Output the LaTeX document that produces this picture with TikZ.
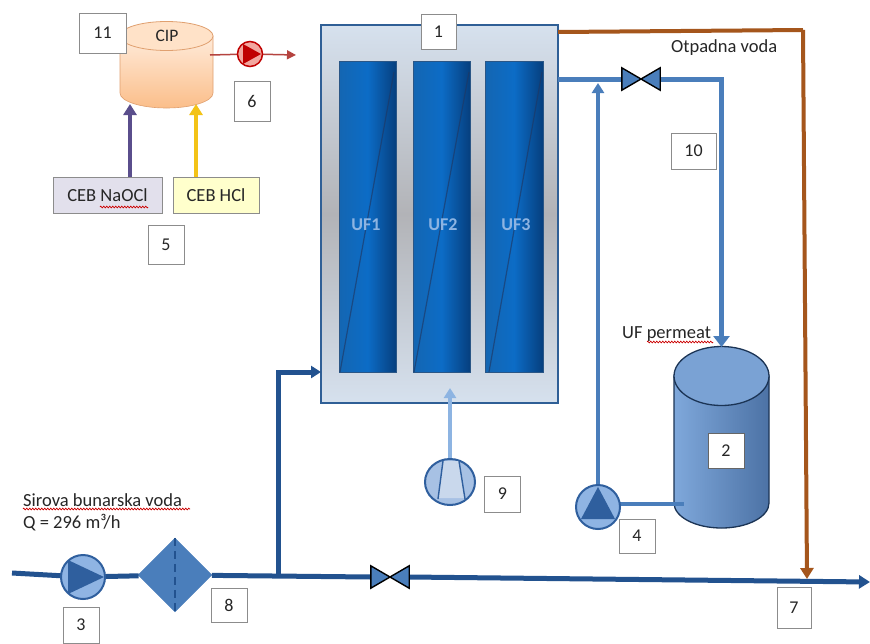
\documentclass[tikz,border=0pt]{standalone}
\usepackage{fontspec}
\setmainfont{Carlito}
\usetikzlibrary{arrows.meta,shapes.geometric,decorations.pathmorphing}
\definecolor{steelp}{HTML}{4A7EBB}
\definecolor{mainp}{HTML}{22528F}
\definecolor{lightp}{HTML}{8DB4E2}
\definecolor{brownp}{HTML}{A5561C}
\definecolor{pumpfill}{HTML}{8FB4E3}
\definecolor{pumptri}{HTML}{2F5F9E}
\definecolor{numedge}{HTML}{8C8C8C}
\definecolor{textc}{HTML}{262626}
\definecolor{panelout}{HTML}{D6E1EE}
\definecolor{panelin}{HTML}{B2B3B7}
\definecolor{panelline}{HTML}{2F5F96}
\definecolor{ufleft}{HTML}{1466B2}
\definecolor{ufmid}{HTML}{0C6CC6}
\definecolor{ufright}{HTML}{063F7E}
\definecolor{ufedge}{HTML}{2A5686}
\definecolor{ufslash}{HTML}{1F3864}
\definecolor{ciptop}{HTML}{FFEBDA}
\definecolor{cipbot}{HTML}{FBBE8A}
\definecolor{ciplid}{HTML}{FFE2C8}
\definecolor{cipline}{HTML}{E0A070}
\definecolor{tankl}{HTML}{7FA8DB}
\definecolor{tankr}{HTML}{4C72A5}
\definecolor{tanktop}{HTML}{7AA2D4}
\definecolor{tankline}{HTML}{1B3455}
\definecolor{purplep}{HTML}{5A4E8C}
\definecolor{yellowp}{HTML}{F3C317}
\definecolor{naoclfill}{HTML}{E2E0EC}
\definecolor{hclfill}{HTML}{FFFFCC}
\definecolor{redline}{HTML}{B5433F}
\definecolor{redpump}{HTML}{C00000}
\definecolor{redpale}{HTML}{F2A79F}
\definecolor{comp}{HTML}{A7C1E4}
\definecolor{compin}{HTML}{C9D8EC}
\tikzset{
  lbl/.style={font=\fontsize{18.5}{21}\selectfont,text=textc,inner sep=0pt},
  numbox/.style={draw=numedge,line width=1pt,fill=white,font=\fontsize{18}{20}\selectfont,text=textc,inner sep=0pt,minimum width=36pt,minimum height=36pt},
  ufmod/.style={draw=ufedge,line width=1pt,left color=ufleft,right color=ufright,middle color=ufmid,inner sep=0pt,minimum width=57pt,minimum height=311pt},
  uftext/.style={text=lightp,font=\fontsize{18}{20}\selectfont\bfseries,inner sep=0pt},
  slash/.style={draw=ufslash,line width=1.2pt,opacity=.65},
  pipe/.style={draw=steelp,line width=5pt},
  thinpipe/.style={draw=steelp,line width=3.5pt},
  mainpipe/.style={draw=mainp,line width=5pt},
  wastepipe/.style={draw=brownp,line width=4pt},
  tipa/.style={-{Triangle[length=11pt,width=13pt]}},
  tipb/.style={-{Triangle[length=10pt,width=12pt]}},
  pumpsize/.style={circle,inner sep=0pt,minimum size=44pt},
  pumpbody/.style={pumpsize,draw=pumptri,line width=2pt,fill=pumpfill},
  valve/.style={inner sep=0pt,minimum width=38pt,minimum height=22pt},
  valvefill/.style={draw=black,line width=1.4pt,fill=steelp,line join=miter},
  chem/.style={draw=black!45,line width=1pt,inner sep=0pt,minimum height=36pt,font=\fontsize{18.5}{21}\selectfont,text=textc},
  spell/.style={draw=red!80!black,line width=.7pt,decorate,decoration={zigzag,segment length=3pt,amplitude=.8pt}},
  anchorbox/.style={inner sep=0pt,outer sep=0pt}
}
\begin{document}
\begin{tikzpicture}[x=1pt,y=-1pt]
\useasboundingbox (0,0) rectangle (870,643);
\fill[white] (0,0) rectangle (870,643);

% anchors and panel
\node[anchorbox,minimum width=237pt,minimum height=378pt,draw=panelline,line width=2.2pt,top color=panelout,bottom color=panelout,middle color=panelin] (panel) at (439.5,214) {};
\node[valve] (v1) at (641,79) {};
\node[valve] (v2) at (390,577) {};
\node[anchorbox,minimum width=95pt,minimum height=181pt] (tank2) at (721.5,437.5) {};
\node[anchorbox,minimum width=93pt,minimum height=87pt] (cip) at (166.5,64.5) {};
\node[pumpsize] (p3) at (83,577) {};
\node[pumpsize] (p4) at (598,507) {};
\node[circle,inner sep=0pt,minimum size=48pt] (p9) at (450,482) {};
\node[circle,inner sep=0pt,minimum size=26pt] (p6) at (250,54) {};
\node[diamond,fill=steelp,draw=steelp,inner sep=0pt,minimum width=74pt,minimum height=74pt] (filter) at (175,575) {};
\node[chem,fill=naoclfill,minimum width=109pt] (naocl) at (107.5,195) {CEB NaOCl};
\node[chem,fill=hclfill,minimum width=86pt] (hcl) at (216,195) {CEB HCl};

\coordinate (inlet) at (12,573);
\coordinate (outlet) at (870,582);
\coordinate (junction) at (278,575);
\coordinate (wastecorner) at (803,30);
\coordinate (wastein) at (807,579);
\coordinate (cipout) at (210,55);
\coordinate (redend) at (296,55);
\coordinate (tankport) at (684,504);
\coordinate (riserhit) at (598,83);

% UF modules
\node[ufmod] (uf1) at (367.5,216.5) {};
\node[ufmod] (uf2) at (441.5,216.5) {};
\node[ufmod,minimum width=58pt] (uf3) at (514,217) {};
\draw[slash] (340,372) -- (394,72);
\draw[slash] (414,372) -- (469,72);
\draw[slash] (489,372) -- (542,72);
\node[uftext] at (366,225) {UF1};
\node[uftext] at (443,225) {UF2};
\node[uftext] at (516,225) {UF3};

% CIP tank
\draw[draw=cipline,line width=.6pt,top color=ciptop,bottom color=cipbot]
  (cip.west |- 0,36) -- (cip.west |- 0,93) arc[x radius=46.5,y radius=15,start angle=180,end angle=0] -- (cip.east |- 0,36) -- cycle;
\draw[draw=cipline,line width=.8pt,fill=ciplid] (cip.center |- 0,36) ellipse[x radius=46.5,y radius=14.5];
\node[lbl,font=\fontsize{17.5}{20}\selectfont] at (167,36) {CIP};

% Tank 2
\draw[draw=tankline,line width=1.3pt,left color=tankl,right color=tankr]
  (tank2.west |- 0,376) -- (tank2.west |- 0,503) arc[x radius=47.5,y radius=25,start angle=180,end angle=0] -- (tank2.east |- 0,376) -- cycle;
\draw[draw=tankline,line width=1.3pt,fill=tanktop] (tank2.center |- 0,376) ellipse[x radius=47.5,y radius=29.5];

% pipes
\draw[wastepipe] (panel.east |- 0,32) -- (wastecorner);
\draw[wastepipe,tipa] (wastecorner) -- (wastein);
\draw[pipe] (panel.east |- v1) -- (v1.west);
\draw[pipe,-{Triangle[length=11pt,width=16pt]}] (v1.east) -| (tank2.north);
\draw[thinpipe,tipb] (p4) -- (riserhit);
\draw[thinpipe] (p4.east |- tankport) -- (tankport);
\draw[draw=lightp,line width=3.4pt,tipb] (p9) -- (p9 |- 0,388);
\draw[mainpipe] (inlet) -- (p3);
\draw[mainpipe] (p3) -- (filter);
\draw[mainpipe] (filter) -- (v2.west);
\draw[mainpipe,tipa] (v2.east) -- (outlet);
\draw[mainpipe,tipb] (junction) |- (panel.west |- 0,372);
\draw[draw=purplep,line width=3.6pt,tipa] (130,177) -- (130,104);
\draw[draw=yellowp,line width=3.6pt,tipa] (196,177) -- (196,104);
\draw[draw=redline,line width=1.5pt] (cipout) -- (p6);
\draw[draw=redline,line width=1.5pt,-{Triangle[length=9pt,width=9pt]}] (p6) -- (redend);

% pump symbols
\node[pumpbody] at (p3) {};
\fill[pumptri] (68,560) -- (68,594) -- (104,577) -- cycle;
\node[pumpbody] at (p4) {};
\fill[pumptri] (598,487) -- (581,519) -- (615,519) -- cycle;
\draw[draw=pumptri,line width=2pt,fill=comp] (p9) ellipse[x radius=25,y radius=23];
\fill[compin] (443,461) -- (459,461) -- (465,498) -- (438,498) -- cycle;
\draw[draw=pumptri,line width=1.4pt] (443,461) -- (438,499);
\draw[draw=pumptri,line width=1.4pt] (459,461) -- (465,499);
\node[circle,draw=redpump,line width=1.5pt,fill=redpale,inner sep=0pt,minimum size=25pt] at (p6) {};
\fill[redpump] (243,44) -- (243,64) -- (261,54) -- cycle;

% filter
\draw[draw=mainp,line width=2.5pt,dash pattern=on 8pt off 5pt] (filter.north) -- (filter.south);

% valves
\draw[valvefill] (v1.north west) -- (v1.south east) -- (v1.north east) -- (v1.south west) -- cycle;
\draw[valvefill] (v2.north west) -- (v2.south east) -- (v2.north east) -- (v2.south west) -- cycle;

% texts
\node[lbl,anchor=west] (otp) at (671,48) {Otpadna voda};
\node[lbl,anchor=west] (ufp) at (622,334) {UF permeat};
\draw[spell] (647,342) -- (713,342);
\node[lbl,anchor=west] (siro) at (23,500) {Sirova bunarska voda};
\draw[spell] (23,509) -- (190,509);
\node[lbl,anchor=west] (qval) at (23,523) {Q = 296 m³/h};
\draw[spell] (100,207) -- (148,207);

% number boxes
\node[numbox,minimum width=35pt,minimum height=35pt] (n1) at (438.5,31.5) {1};
\node[numbox,minimum width=36pt,minimum height=35pt,draw=black!60] (n2) at (726,450.5) {2};
\node[numbox] (n3) at (81,625) {3};
\node[numbox,minimum height=34pt] (n4) at (637,536) {4};
\node[numbox,minimum height=39pt] (n5) at (166,244.5) {5};
\node[numbox,minimum height=40pt] (n6) at (252,101) {6};
\node[numbox,minimum width=34pt,minimum height=41pt] (n7) at (794,607.5) {7};
\node[numbox,minimum height=34pt] (n8) at (229,605) {8};
\node[numbox] (n9) at (502.5,494) {9};
\node[numbox,minimum width=45pt] (n10) at (693.5,151) {10};
\node[numbox,minimum width=47pt,minimum height=40pt] (n11) at (102.5,33) {11};
\end{tikzpicture}
\end{document}
